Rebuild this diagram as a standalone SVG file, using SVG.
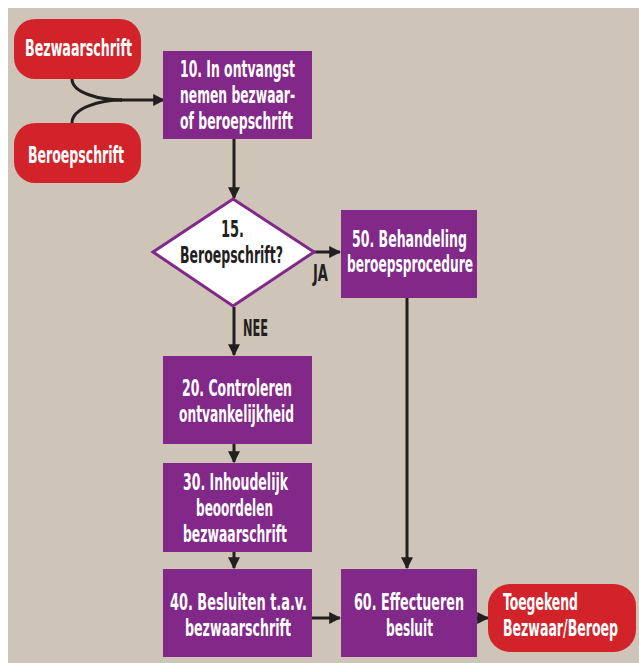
<svg xmlns="http://www.w3.org/2000/svg" width="639" height="663" viewBox="0 0 639 663">
  <defs>
    <marker id="arrow" viewBox="0 0 10 10" refX="9" refY="5" markerWidth="4" markerHeight="4" markerUnits="strokeWidth" orient="auto">
      <path d="M0,0 L10,5 L0,10 z" fill="#231f20"/>
    </marker>
    <style>
      .bg { fill: #cec4b8; }
      .step { fill: #812888; }
      .term { fill: #d2232a; }
      .decision { fill: #ffffff; stroke: #812888; stroke-width: 3; }
      .lbl { font-family: "DejaVu Sans Condensed", "Liberation Sans Narrow", "Liberation Sans", sans-serif; font-weight: bold; font-size: 23px; fill: #ffffff; }
      .dark { fill: #231f20; }
      .edge { fill: none; stroke: #231f20; stroke-width: 3; }
      .arr { marker-end: url(#arrow); }
    </style>
  </defs>

  <rect class="bg" x="8" y="8" width="631" height="655"/>

  <!-- connectors -->
  <g id="connectors">
    <path class="edge" d="M72,79 C72,93 100,100 122,100"/>
    <path class="edge" d="M72,123 C72,108 100,100 122,100"/>
    <path class="edge arr" d="M120,100 L164,100"/>
    <path class="edge arr" d="M234,139 L234,198"/>
    <path class="edge arr" d="M314,252 L340,252"/>
    <path class="edge arr" d="M234,307 L234,355"/>
    <path class="edge arr" d="M234,444 L234,462"/>
    <path class="edge arr" d="M234,552 L234,568"/>
    <path class="edge arr" d="M407,298 L407,568"/>
    <path class="edge arr" d="M312,618 L340,618"/>
    <path class="edge arr" d="M477,618 L488,618"/>
    <text class="lbl dark" x="313" y="281" textLength="15" lengthAdjust="spacingAndGlyphs">JA</text>
    <text class="lbl dark" x="243" y="336" textLength="25" lengthAdjust="spacingAndGlyphs">NEE</text>
  </g>

  <g id="bezwaarschrift">
    <rect class="term" x="14" y="19" width="127" height="60" rx="21"/>
    <text class="lbl" x="25" y="56" textLength="107" lengthAdjust="spacingAndGlyphs">Bezwaarschrift</text>
  </g>

  <g id="beroepschrift">
    <rect class="term" x="14" y="123" width="127" height="60" rx="21"/>
    <text class="lbl" x="28" y="163" textLength="96" lengthAdjust="spacingAndGlyphs">Beroepschrift</text>
  </g>

  <g id="step10">
    <rect class="step" x="163" y="51" width="149" height="88"/>
    <text class="lbl" x="180" y="77" textLength="115" lengthAdjust="spacingAndGlyphs">10. In ontvangst</text>
    <text class="lbl" x="180" y="103" textLength="115" lengthAdjust="spacingAndGlyphs">nemen bezwaar-</text>
    <text class="lbl" x="180" y="129" textLength="113" lengthAdjust="spacingAndGlyphs">of beroepschrift</text>
  </g>

  <g id="step15">
    <polygon class="decision" points="233,199 314,252 233,306 153,252"/>
    <text class="lbl dark" x="221" y="237" textLength="23" lengthAdjust="spacingAndGlyphs">15.</text>
    <text class="lbl dark" x="180" y="263" textLength="103" lengthAdjust="spacingAndGlyphs">Beroepschrift?</text>
  </g>

  <g id="step50">
    <rect class="step" x="341" y="210" width="136" height="88"/>
    <text class="lbl" x="352" y="247" textLength="115" lengthAdjust="spacingAndGlyphs">50. Behandeling</text>
    <text class="lbl" x="347" y="272" textLength="126" lengthAdjust="spacingAndGlyphs">beroepsprocedure</text>
  </g>

  <g id="step20">
    <rect class="step" x="163" y="356" width="149" height="88"/>
    <text class="lbl" x="182" y="396" textLength="110" lengthAdjust="spacingAndGlyphs">20. Controleren</text>
    <text class="lbl" x="179" y="422" textLength="115" lengthAdjust="spacingAndGlyphs">ontvankelijkheid</text>
  </g>

  <g id="step30">
    <rect class="step" x="163" y="463" width="149" height="89"/>
    <text class="lbl" x="183" y="490" textLength="105" lengthAdjust="spacingAndGlyphs">30. Inhoudelijk</text>
    <text class="lbl" x="196" y="516" textLength="77" lengthAdjust="spacingAndGlyphs">beoordelen</text>
    <text class="lbl" x="183" y="542" textLength="104" lengthAdjust="spacingAndGlyphs">bezwaarschrift</text>
  </g>

  <g id="step40">
    <rect class="step" x="163" y="569" width="149" height="88"/>
    <text class="lbl" x="170" y="610" textLength="137" lengthAdjust="spacingAndGlyphs">40. Besluiten t.a.v.</text>
    <text class="lbl" x="185" y="636" textLength="106" lengthAdjust="spacingAndGlyphs">bezwaarschrift</text>
  </g>

  <g id="step60">
    <rect class="step" x="341" y="569" width="136" height="88"/>
    <text class="lbl" x="354" y="610" textLength="110" lengthAdjust="spacingAndGlyphs">60. Effectueren</text>
    <text class="lbl" x="386" y="636" textLength="47" lengthAdjust="spacingAndGlyphs">besluit</text>
  </g>

  <g id="toegekend">
    <rect class="term" x="488" y="584" width="148" height="68" rx="22"/>
    <text class="lbl" x="503" y="610" textLength="75" lengthAdjust="spacingAndGlyphs">Toegekend</text>
    <text class="lbl" x="503" y="636" textLength="115" lengthAdjust="spacingAndGlyphs">Bezwaar/Beroep</text>
  </g>
</svg>
